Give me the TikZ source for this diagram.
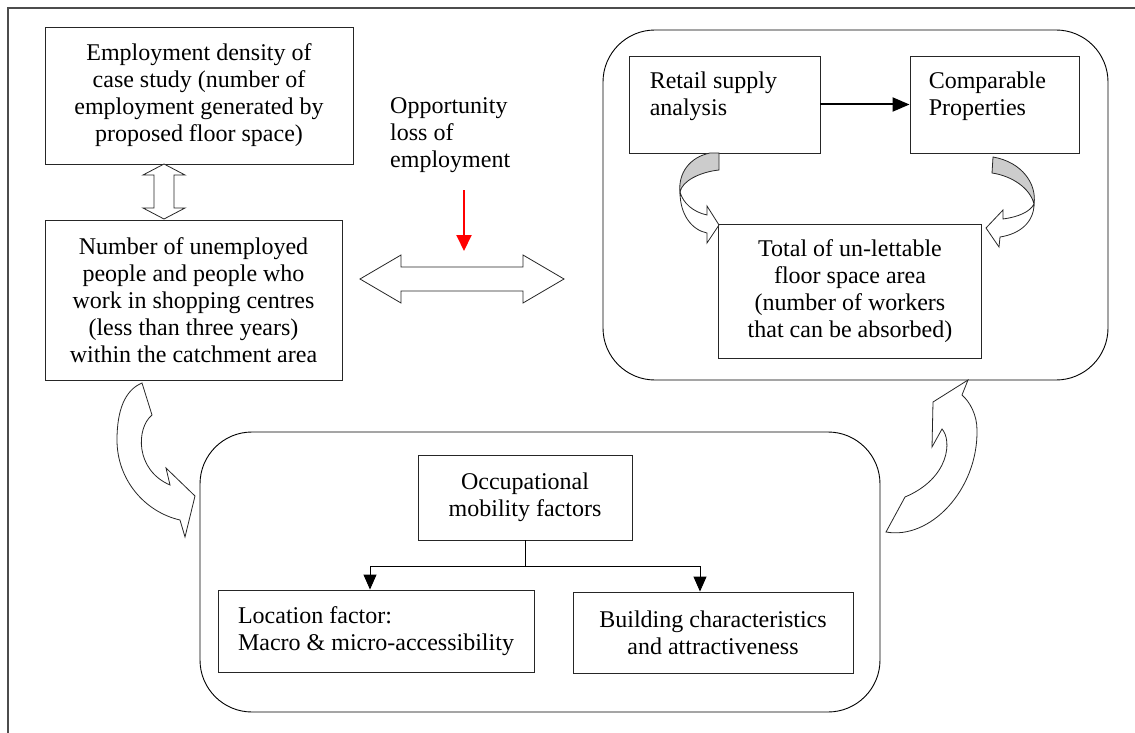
\documentclass[tikz,border=0pt]{standalone}
\usepackage{fontspec}
\setmainfont{Liberation Serif}
\usetikzlibrary{arrows.meta,positioning,calc}

\begin{document}
\begin{tikzpicture}[x=1pt, y=-1pt, font=\fontsize{24}{27}\selectfont]
\tikzstyle{box}=[draw=black!85, line width=0.9pt, align=center, inner sep=0pt]
\tikzstyle{panel}=[draw=black, line width=0.9pt, rounded corners=52pt, inner sep=0pt]
\tikzstyle{hollow}=[draw=black!85, line width=0.8pt, fill=white, line join=miter]
\tikzstyle{shade}=[draw=black!85, line width=0.8pt, fill=black!20]
\tikzstyle{flow}=[-{Triangle[length=15pt,width=13pt]}, line width=0.9pt]
\tikzstyle{boldflow}=[-{Triangle[length=17pt,width=14pt]}, line width=2pt]
\useasboundingbox (0,0) rectangle (1135,733);
% frame
\draw[black!70, line width=1.2pt] (1135,8) -- (8,8) -- (8,733);

% left column
\node[box, minimum width=308, minimum height=137] (density) at (199,95.5) {Employment density of\\case study (number of\\employment generated by\\proposed floor space)};
\node[box, minimum width=297, minimum height=160] (unemployed) at (193.5,300) {Number of unemployed\\people and people who\\work in shopping centres\\(less than three years)\\within the catchment area};
\node[align=left, anchor=west, inner sep=0pt] (opportunity) at (390,135) {Opportunity\\loss of\\employment};

% supply side
\node[panel, minimum width=505, minimum height=350] (supply) at (855.5,205) {};
\node[box, minimum width=191, minimum height=97] (retail) at (724.5,104.5) {};
\node[box, minimum width=169, minimum height=97] (comparable) at (994.5,104.5) {};
\node[anchor=north west, align=left, inner sep=0pt] (retailtext) at ([shift={(21,16)}]retail.north west) {Retail supply\\analysis};
\node[anchor=north west, align=left, inner sep=0pt] (comparabletext) at ([shift={(19,16)}]comparable.north west) {Comparable\\Properties};
\node[box, minimum width=263, minimum height=134] (unlettable) at (850,291) {Total of un-lettable\\floor space area\\(number of workers\\that can be absorbed)};

% mobility factors
\node[panel, minimum width=680, minimum height=280] (mobility) at (540,572) {};
\node[box, minimum width=214, minimum height=85] (occupational) at (525,497.5) {Occupational\\mobility factors};
\node[box, minimum width=316, minimum height=82, align=left] (location) at (376,631) {Location factor:\\Macro \& micro-accessibility};
\node[box, minimum width=280, minimum height=81] (building) at (713,632.5) {Building characteristics\\and attractiveness};

% straight arrows
\draw[boldflow] (retail) -- (comparable);
\coordinate (split) at (525,566);
\draw[line width=0.9pt] (occupational) -- (split);
\draw[flow] (split) -| ([xshift=-6pt]location.north);
\draw[flow] (split) -| ([xshift=-13pt]building.north);
\coordinate (redtop) at (464,190);
\coordinate (redtip) at (464,251);
\draw[red, -{Triangle[length=16pt,width=15pt]}, line width=2pt] (redtop) -- (redtip);

% block arrows
\draw[hollow] (164,164) -- (185,175) -- (174,175) -- (174,208) -- (185,208) -- (164,219)
  -- (143,208) -- (154,208) -- (154,175) -- (143,175) -- cycle;
\draw[hollow] (360,279) -- (401,255) -- (401,267) -- (523,267) -- (523,255) -- (564,279)
  -- (523,303) -- (523,291) -- (401,291) -- (401,303) -- cycle;

% curved arrows into the un-lettable box
\draw[shade] (710,153) -- (719,153) -- (719,170) .. controls (700,172) and (682,181) .. (680,192)
  .. controls (678,173) and (690,157) .. (710,153) -- cycle;
\draw[hollow] (680,192) .. controls (680,215) and (692,230) .. (707,233) -- (707,243) -- (719,225)
  -- (707,206) -- (707,215) .. controls (693,212) and (683,203) .. (680,192) -- cycle;
\draw[shade] (993,157) -- (992,173) .. controls (1012,176) and (1030,188) .. (1034,204)
  .. controls (1037,184) and (1022,162) .. (993,157) -- cycle;
\draw[hollow] (1034,204) .. controls (1034,222) and (1020,234) .. (1000,237) -- (999,247) -- (986,228)
  -- (1003,210) -- (1003,219) .. controls (1018,217) and (1030,212) .. (1034,204) -- cycle;

% big curved arrows
\draw[hollow] (142,383) -- (152,415) .. controls (136,428) and (135,470) .. (170,485) -- (166,468)
  -- (195,496) -- (185,537) -- (180,520) .. controls (145,512) and (117,480) .. (117,440)
  .. controls (117,410) and (125,390) .. (142,383) -- cycle;
\draw[hollow] (968,380) -- (933,402) -- (932,447) -- (942,429) .. controls (952,440) and (950,478) .. (905,497)
  -- (886,532) .. controls (930,540) and (978,490) .. (977,430)
  .. controls (977,415) and (970,402) .. (962,395) -- cycle;
\end{tikzpicture}
\end{document}
